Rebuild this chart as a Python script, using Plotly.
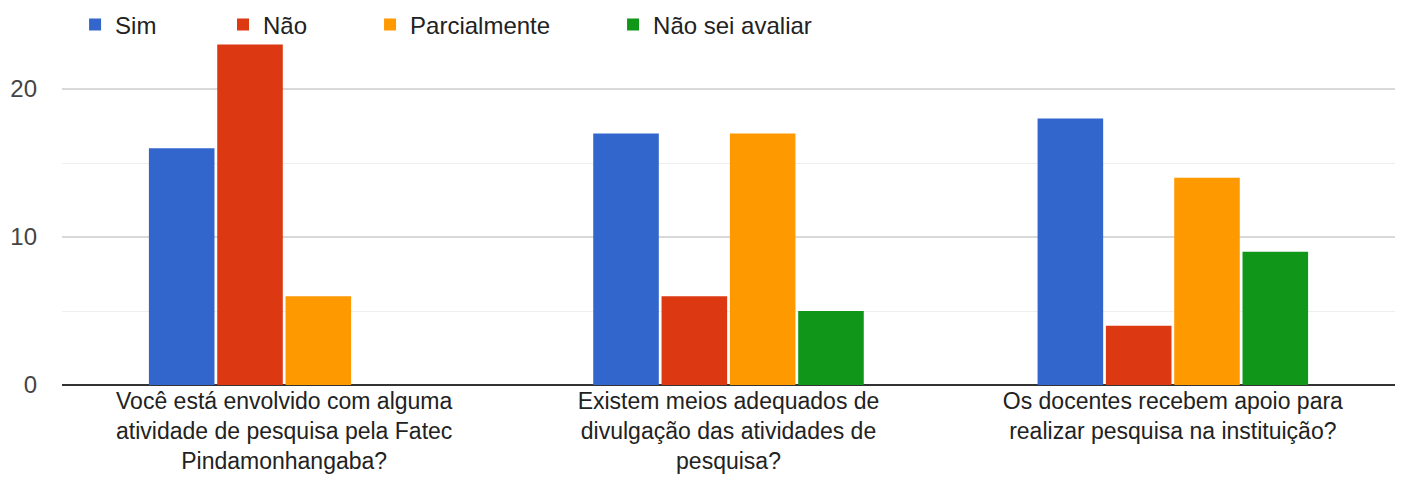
import plotly.graph_objects as go

categories = [
    "Você está envolvido com alguma<br>atividade de pesquisa pela Fatec<br>Pindamonhangaba?",
    "Existem meios adequados de<br>divulgação das atividades de<br>pesquisa?",
    "Os docentes recebem apoio para<br>realizar pesquisa na instituição?",
]
series_names = ["Sim", "Não", "Parcialmente", "Não sei avaliar"]
sim = [16, 17, 18]
nao = [23, 6, 4]
parcial = [6, 17, 14]
nao_sei = [0, 5, 9]
values = [sim, nao, parcial, nao_sei]
colors = ["#3366cc", "#dc3912", "#ff9900", "#109618"]

legend_ids = ["legend", "legend2", "legend3", "legend4"]
legend_x = [0.0098, 0.1208, 0.2311, 0.4134]

fig = go.Figure()
for name, vals, c, lid in zip(series_names, values, colors, legend_ids):
    fig.add_trace(go.Bar(name=name, x=categories, y=vals, marker_color=c,
                         marker_line_width=0, legend=lid, showlegend=True))

font_family = "Arial, Liberation Sans, sans-serif"
legend_common = dict(orientation="h", xanchor="left", y=0.973, yanchor="middle",
                     bgcolor="rgba(0,0,0,0)", font=dict(size=24, color="#222",
                                                        family=font_family),
                     itemwidth=30, visible=True)
layout_legends = {lid: dict(x=lx, **legend_common) for lid, lx in zip(legend_ids, legend_x)}

fig.update_layout(
    width=1387, height=466,
    margin=dict(l=54, r=0, t=7, b=89, autoexpand=False),
    showlegend=True,
    paper_bgcolor="white", plot_bgcolor="white",
    barmode="group", bargap=0.385, bargroupgap=0.04,
    font=dict(family=font_family, size=23, color="#222"),
    yaxis=dict(range=[0, 25], dtick=10, tick0=0, showgrid=True,
               gridcolor="#d9d9d9", gridwidth=1.5,
               minor=dict(dtick=5, showgrid=True, gridcolor="#eeeeee", gridwidth=1),
               zeroline=True, zerolinecolor="#333333", zerolinewidth=1.5,
               tickfont=dict(size=24, color="#444"), ticklabelstandoff=24,
               showline=False, fixedrange=True),
    xaxis=dict(showline=False, tickfont=dict(size=23, color="#222"),
               ticks="", fixedrange=True, automargin=False),
    **layout_legends,
)

fig.write_html("out.html")
